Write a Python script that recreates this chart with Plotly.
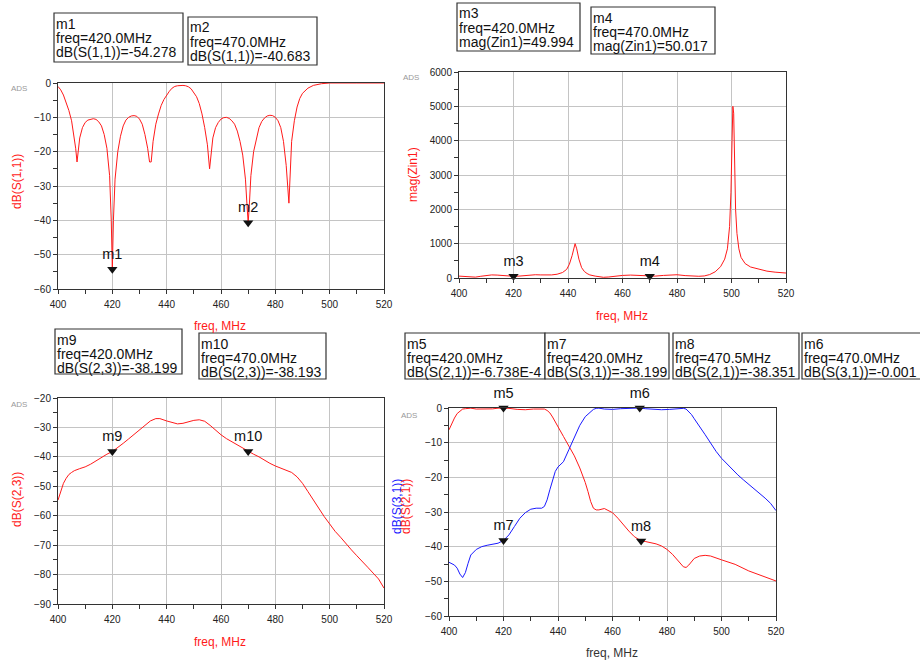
import plotly.graph_objects as go

# ---------------- data ----------------
s11_freq = [400, 401, 402, 403, 404, 405, 406, 406.5, 407, 407.5, 408, 409, 410, 411, 412, 413, 414, 415, 416,
            417, 418, 419, 419.6, 420, 420.4, 421, 422, 423, 424, 425, 426, 427, 428, 429, 430, 431, 432, 433,
            433.7, 434.3, 435, 436, 437, 438, 439, 440, 441, 442, 443, 444, 445, 446, 447, 448, 449, 450, 451,
            452, 453, 454, 455, 455.8, 456.5, 457, 458, 459, 460, 461, 462, 463, 464, 465, 466, 467, 468, 469,
            469.6, 470, 470.4, 471, 472, 473, 474, 475, 476, 477, 478, 479, 480, 481, 482, 483, 484, 485, 485.5,
            486, 487, 488, 489, 490, 492, 494, 497, 500, 510, 520]
s11_db = [-1, -2, -3.5, -5.5, -8, -11, -16, -19, -23, -20, -16, -13, -11.5, -10.8, -10.5, -10.4, -10.6, -11.3, -12.5,
          -15, -19, -27, -40, -54.278, -40, -28, -20, -15.5, -12.5, -10.8, -10, -9.6, -9.5, -9.7, -10.5, -12, -15, -19,
          -23, -23, -17, -12, -9, -6.5, -4.8, -3.5, -2.4, -1.5, -1, -0.8, -0.7, -0.7, -0.8, -1.1, -1.7, -2.7, -4,
          -6, -9, -13, -18, -25, -19, -16, -13, -11.5, -10.5, -10.1, -10, -10.3, -11, -12, -14, -17, -21, -28,
          -36, -40.683, -36, -27, -20, -16, -13, -11.2, -10.2, -9.6, -9.4, -9.5, -10, -11, -13, -17, -24, -35, -25,
          -17, -11, -7, -4.5, -3, -1.5, -0.7, -0.2, 0, 0, 0]

zin_freq = [400, 402, 404, 406, 408, 410, 412, 414, 416, 418, 420, 422, 424, 426, 428, 430, 432, 434, 436, 438,
            439.5, 440.5, 441.5, 442.2, 442.6, 443.2, 444, 445, 446, 447, 448, 450, 452, 453, 455, 457, 460, 463,
            466, 468, 470, 472, 475, 478, 480, 483, 486, 488, 490, 492, 494, 496, 497.5, 498.5, 499.3, 499.8,
            500.2, 500.5, 500.8, 501.1, 501.5, 502, 502.7, 503.5, 505, 507, 510, 513, 516, 520]
zin_mag = [55, 40, 25, 25, 50, 80, 90, 85, 70, 55, 49.994, 55, 70, 85, 95, 90, 80, 90, 110, 160,
           250, 400, 650, 900, 1000, 850, 550, 300, 190, 130, 90, 55, 30, 20, 30, 50, 75, 85,
           75, 60, 50.017, 55, 75, 100, 95, 70, 55, 50, 60, 100, 180, 330, 550, 850, 1500, 2500,
           4000, 5000, 4800, 3000, 2000, 1300, 850, 600, 420, 320, 250, 200, 170, 145]

s23_freq = [400, 401, 402, 403, 404, 405, 406, 408, 410, 412, 414, 416, 418, 420, 422, 424, 426, 428, 430, 432,
            434, 436, 437.5, 440, 442, 444, 446, 448, 450, 452, 454, 456, 458, 460, 462, 464, 466, 468, 470,
            472, 474, 476, 478, 480, 482, 484, 486, 488, 490, 492, 494, 496, 498, 500, 502, 504, 506, 508,
            510, 512, 514, 516, 518, 520]
s23_db = [-54.7, -51.8, -49, -47.3, -46, -45.3, -44.7, -44, -43.4, -42.5, -41.3, -40, -39.1, -38.199, -36.9, -35.4,
          -33.9, -32.4, -31, -29.3, -27.8, -27, -27, -27.8, -28.4, -28.8, -28.6, -28.1, -27.6, -27.4, -27.9, -29.3,
          -31, -32.5, -33.8, -34.9, -36, -37.1, -38.193, -39.1, -40, -41.2, -42.2, -43.1, -43.9, -44.5, -45.3,
          -46.8, -49, -51.8, -54.7, -57.5, -60.3, -62.8, -65.3, -67.3, -69.6, -71.6, -73.6, -75.4, -77.5, -79.5,
          -81.5, -84.6]

s21_freq = [400, 401, 402, 403, 404, 405, 406, 408, 410, 413, 416, 418, 420, 422, 425, 428, 431, 434, 435, 436,
            437, 438, 439, 440, 442, 444, 446, 448, 449, 450, 451, 452, 453, 454, 455, 456, 457, 458, 460, 462,
            464, 466, 468, 470, 470.5, 472, 474, 476, 478, 480, 482, 484, 486, 487, 488, 490, 492, 494, 496,
            500, 505, 510, 515, 520]
s21_db = [-6.3, -4.3, -2.9, -1.6, -0.8, -0.3, -0.2, -0.05, -0.3, -0.35, -0.25, -0.05, -6.738e-4, -0.1, -0.4, -0.5,
          -0.3, -0.15, -0.3, -0.7, -1.4, -2.6, -3.9, -5.3, -8.2, -11, -13.8, -17.3, -19.3, -21.5, -24.1, -27,
          -28.9, -29.4, -29.4, -29.1, -29, -29.4, -30.2, -31.8, -33.7, -35.5, -37.1, -38.2, -38.351, -38.5,
          -38.8, -39.2, -39.8, -40.8, -42.2, -44, -45.8, -46, -45.3, -43.4, -42.7, -42.5, -42.7, -43.8, -45.1,
          -47, -48.4, -49.9]

s31_freq = [400, 401, 402, 403, 404, 405, 406, 407, 408, 410, 412, 414, 416, 418, 420, 422, 424, 426, 428, 430,
            432, 434, 435, 436, 437, 438, 439, 440, 442, 444, 446, 448, 450, 452, 453, 454, 455, 457, 460, 463,
            466, 468, 470, 472, 475, 478, 481, 484, 486, 487, 488, 489, 490, 492, 494, 496, 498, 500, 502, 504,
            506, 508, 510, 512, 514, 516, 518, 520]
s31_db = [-44.5, -44.8, -45.3, -46.2, -47.9, -48.9, -47.5, -44.8, -42.4, -40.8, -40, -39.6, -39.3, -39, -38.199,
          -36.6, -34.2, -31.8, -30.2, -29.2, -28.9, -28.9, -28.4, -26.5, -23.6, -20.7, -18.3, -17, -15.5, -12,
          -8.5, -5, -2.5, -1, -0.4, -0.1, -0.05, -0.3, -0.4, -0.2, -0.05, -0.1, -0.001, -0.2, -0.4, -0.5, -0.4,
          -0.2, -0.1, -0.3, -1, -1.9, -3.1, -5.3, -7.7, -10.1, -12.5, -14.5, -16.2, -17.8, -19.3, -20.7, -22,
          -23.3, -24.6, -26, -27.5, -29.6]

marker_names = ["m1", "m2", "m3", "m4", "m9", "m10", "m5", "m7", "m8", "m6"]
marker_freq = [420.0, 470.0, 420.0, 470.0, 420.0, 470.0, 420.0, 420.0, 470.5, 470.0]
marker_val = [-54.278, -40.683, 49.994, 50.017, -38.199, -38.193, -6.738e-4, -38.199, -38.351, -0.001]
marker_expr = ["dB(S(1,1))", "dB(S(1,1))", "mag(Zin1)", "mag(Zin1)", "dB(S(2,3))", "dB(S(2,3))",
               "dB(S(2,1))", "dB(S(3,1))", "dB(S(2,1))", "dB(S(3,1))"]
marker_text = ["-54.278", "-40.683", "49.994", "50.017", "-38.199", "-38.193", "-6.738E-4", "-38.199",
               "-38.351", "-0.001"]
marker_plot = [1, 1, 2, 2, 3, 3, 4, 4, 4, 4]

# ---------------- layout helpers ----------------
W, H = 920, 661
FONT = "Liberation Sans, Arial, sans-serif"


def px(x):
    return x / W


def py(y):
    return 1 - y / H


# plot areas in pixels: left, top, right, bottom
areas = {1: (58, 83, 384, 289), 2: (459, 72, 786, 278), 3: (58, 398, 384, 604), 4: (449, 408, 776, 616)}
yranges = {1: (-60, 0, 10, 5), 2: (0, 6000, 1000, 500), 3: (-90, -20, 10, 5), 4: (-60, 0, 10, 5)}

# marker readout boxes: left, top, right, bottom (pixels)
boxes = [(54, 13, 183, 62), (188, 17, 317, 65), (457, 3, 580, 51), (591, 7, 715, 54), (55, 329, 182, 374),
         (199, 333, 326, 379), (405, 333, 545, 379), (545, 333, 669, 379), (673, 333, 799, 379),
         (802, 333, 930, 379)]

fig = go.Figure()
RED = "#ff1a1a"
BLUE = "#1a1aff"


def ax_names(i):
    s = "" if i == 1 else str(i)
    return "x" + s, "y" + s


series = [(s11_freq, s11_db, 1, RED), (zin_freq, zin_mag, 2, RED), (s23_freq, s23_db, 3, RED),
          (s21_freq, s21_db, 4, RED), (s31_freq, s31_db, 4, BLUE)]
for fx, fy, p, col in series:
    xa, ya = ax_names(p)
    fig.add_trace(go.Scatter(x=fx, y=fy, mode="lines", line=dict(color=col, width=1), xaxis=xa, yaxis=ya,
                             showlegend=False, hoverinfo="skip"))

for name, f, v, p in zip(marker_names, marker_freq, marker_val, marker_plot):
    xa, ya = ax_names(p)
    fig.add_trace(go.Scatter(x=[f], y=[v], mode="markers+text", text=[name], textposition="top center",
                             textfont=dict(size=14.5, color="#111", family=FONT),
                             marker=dict(symbol="triangle-down", size=9, color="#111"),
                             xaxis=xa, yaxis=ya, showlegend=False, cliponaxis=False, hoverinfo="skip"))

layout = dict(width=W, height=H, margin=dict(l=0, r=0, t=0, b=0, autoexpand=False), paper_bgcolor="white",
              plot_bgcolor="white", font=dict(family=FONT), showlegend=False)

for p, (l, t, r, b) in areas.items():
    xa, ya = ax_names(p)
    lo, hi, dt, mdt = yranges[p]
    common = dict(showgrid=True, gridcolor="#c4c4c4", gridwidth=1, showline=True, linecolor="#333",
                  linewidth=1, mirror=True, ticks="outside", ticklen=4, tickcolor="#333", zeroline=False,
                  tickfont=dict(size=10, color="#222", family=FONT), fixedrange=True, automargin=False)
    layout["xaxis" + ("" if p == 1 else str(p))] = dict(
        domain=[px(l), px(r)], anchor=ya, range=[400, 520], tick0=400, dtick=20,
        minor=dict(tick0=400, dtick=10, ticks="outside", ticklen=4, tickcolor="#333", showgrid=False),
        ticklabelstandoff=2, **common)
    layout["yaxis" + ("" if p == 1 else str(p))] = dict(
        domain=[py(b), py(t)], anchor=xa, range=[lo, hi], tick0=lo, dtick=dt,
        minor=dict(tick0=lo, dtick=mdt, ticks="outside", ticklen=4, tickcolor="#333", showgrid=False),
        **common)

annotations = []
shapes = []


def txt(x, y, s, size, color, xanchor="left", angle=0):
    annotations.append(dict(x=px(x), y=py(y), xref="paper", yref="paper", text=s, showarrow=False,
                            xanchor=xanchor, yanchor="middle", textangle=angle, borderpad=0,
                            font=dict(size=size, color=color, family=FONT)))


# readout boxes
for (l, t, r, b), name, f, expr, vt in zip(boxes, marker_names, marker_freq, marker_expr, marker_text):
    shapes.append(dict(type="rect", xref="paper", yref="paper", x0=px(l), x1=px(r), y0=py(b), y1=py(t),
                       line=dict(color="#333", width=1.2), fillcolor="white", layer="above"))
    lines = [name, "freq=%.1fMHz" % f, "%s=%s" % (expr, vt)]
    for k, s in enumerate(lines):
        txt(l + 0.5, t + 10.5 + 14.4 * k, s, 14, "#111")

# axis titles
txt(220, 326, "freq, MHz", 12, RED, "center")
txt(622, 316, "freq, MHz", 12, RED, "center")
txt(220, 642, "freq, MHz", 12, RED, "center")
txt(612, 653, "freq, MHz", 12, "#333", "center")
txt(17, 182, "dB(S(1,1))", 12, RED, "center", -90)
txt(413, 175, "mag(Zin1)", 12, RED, "center", -90)
txt(17, 500, "dB(S(2,3))", 12, RED, "center", -90)
txt(397, 507, "dB(S(3,1))", 12, BLUE, "center", -90)
txt(406, 507, "dB(S(2,1))", 12, RED, "center", -90)

# ADS tags
for x, y in [(19, 89), (411, 77), (19, 404), (409, 415)]:
    txt(x, y, "ADS", 8, "#999", "center")

layout["annotations"] = annotations
layout["shapes"] = shapes
fig.update_layout(**layout)
fig.write_html("out.html")
